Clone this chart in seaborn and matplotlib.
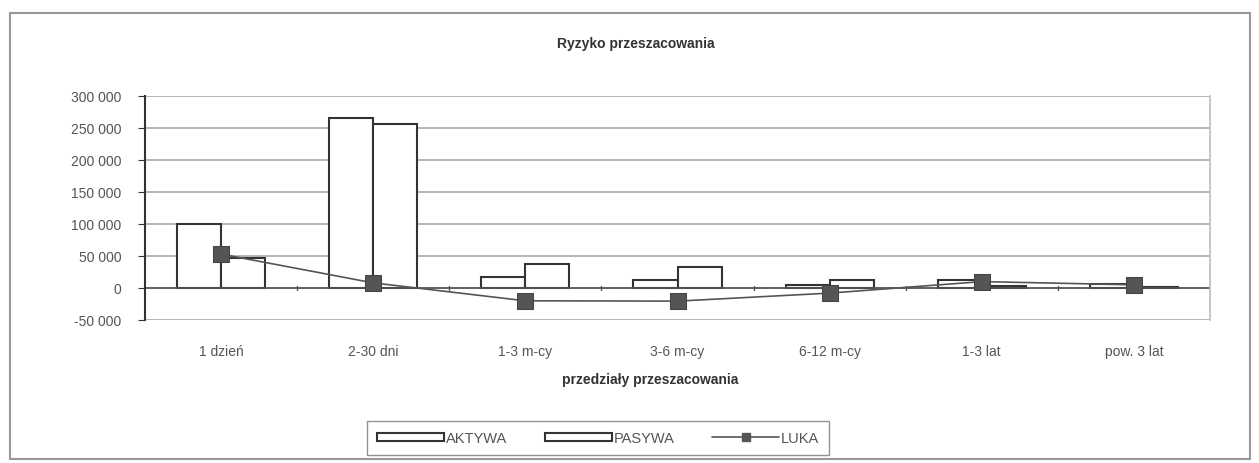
import numpy as np
import pandas as pd
import matplotlib
matplotlib.use("Agg")
import matplotlib.pyplot as plt
import matplotlib.patches as mpatches
from matplotlib.lines import Line2D
from matplotlib.ticker import FuncFormatter, MultipleLocator
import seaborn as sns

# dane
przedzialy = ["1 dzień", "2-30 dni", "1-3 m-cy", "3-6 m-cy", "6-12 m-cy", "1-3 lat", "pow. 3 lat"]
aktywa = [100000, 265000, 17000, 12500, 5000, 13000, 6000]
pasywa = [47000, 257000, 37000, 33000, 13000, 3000, 1000]
luka = [53000, 8000, -20000, -20500, -8000, 10000, 5000]

sns.set_style("white")
plt.rcParams["font.family"] = ["Liberation Sans", "DejaVu Sans"]

df = pd.DataFrame({
    "przedzial": przedzialy * 2,
    "wartosc": aktywa + pasywa,
    "seria": ["AKTYWA"] * len(przedzialy) + ["PASYWA"] * len(przedzialy),
})

fig = plt.figure(figsize=(12.59, 4.64), dpi=100)
ax = fig.add_axes([145 / 1259, 1 - 321 / 464, (1210 - 145) / 1259, (321 - 97) / 464])

sns.barplot(data=df, x="przedzial", y="wartosc", hue="seria", order=przedzialy,
            palette=["white", "white"], edgecolor="#333333", linewidth=1.5,
            width=0.58, gap=0, legend=False, ax=ax)
sns.lineplot(x=np.arange(len(przedzialy)), y=luka, color="#555555", linewidth=1.2,
             marker="s", markersize=11, markerfacecolor="#555555",
             markeredgecolor="#444444", ax=ax, zorder=5)

ax.set_xlim(-0.5, len(przedzialy) - 0.5)
ax.set_ylim(-50000, 300000)
ax.yaxis.set_major_locator(MultipleLocator(50000))
ax.yaxis.set_major_formatter(FuncFormatter(lambda v, p: f"{int(v):,}".replace(",", " ")))
ax.grid(axis="y", color="#aaaaaa", linewidth=1.2)
ax.set_axisbelow(True)
ax.axhline(0, color="#555555", linewidth=1.2, zorder=1)
for s in ["top", "bottom"]:
    ax.spines[s].set_visible(False)
ax.spines["right"].set_color("#bbbbbb")
ax.spines["right"].set_linewidth(1.2)
ax.spines["left"].set_color("#333333")
ax.spines["left"].set_linewidth(1.5)
ax.tick_params(axis="y", left=True, length=5, color="#333333", labelsize=10,
               labelcolor="#555555", pad=12)
ax.tick_params(axis="x", bottom=False, labelsize=10, labelcolor="#555555", pad=14)
ax.set_xlabel("")
ax.set_ylabel("")

# znaczniki osi kategorii na linii zera
for k in range(1, len(przedzialy)):
    ax.plot([k - 0.5, k - 0.5], [-3500, 3500], color="#555555", linewidth=1)

fig.text(636 / 1259, 1 - 44 / 464, "Ryzyko przeszacowania", ha="center", va="center",
         fontsize=10, fontweight="bold", color="#333333")
fig.text(650 / 1259, 1 - 380 / 464, "przedziały przeszacowania", ha="center", va="center",
         fontsize=10, fontweight="bold", color="#333333")

handles = [
    mpatches.Patch(facecolor="white", edgecolor="#333333", linewidth=1.5, label="AKTYWA"),
    mpatches.Patch(facecolor="white", edgecolor="#333333", linewidth=1.5, label="PASYWA"),
    Line2D([0], [0], color="#555555", marker="s", markersize=6, linewidth=1.2, label="LUKA"),
]
leg = fig.legend(handles=handles, loc="center", bbox_to_anchor=(598 / 1259, 1 - 439 / 464),
                 ncol=3, frameon=True, fancybox=False, edgecolor="#777777",
                 handlelength=4.6, handleheight=0.5, handletextpad=0.1, columnspacing=2.6,
                 fontsize=10.5, borderpad=0.35, borderaxespad=0)
leg.get_frame().set_boxstyle("square", pad=0.35)
for t in leg.get_texts():
    t.set_color("#555555")

fig.patches.append(mpatches.Rectangle((10 / 1259, 4 / 464), 1240 / 1259, 446 / 464,
                                      transform=fig.transFigure, fill=False,
                                      edgecolor="#999999", linewidth=1.5))

fig.savefig("out.png", dpi=100)
